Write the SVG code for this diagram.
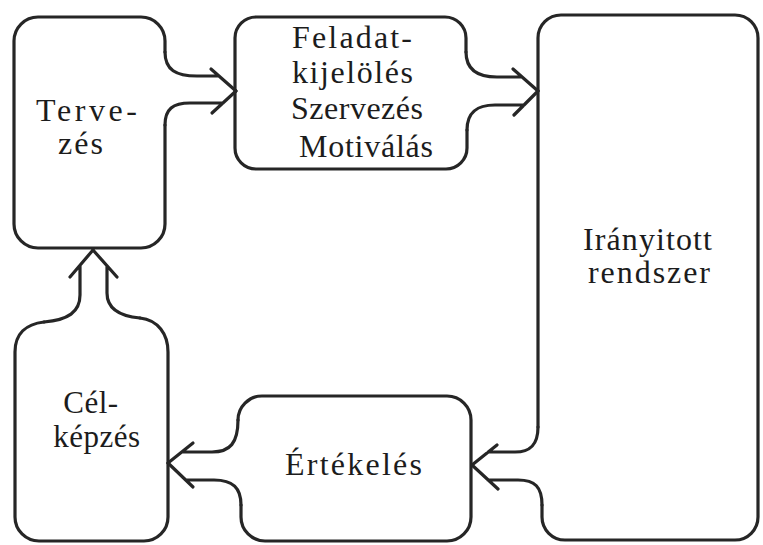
<svg xmlns="http://www.w3.org/2000/svg" width="763" height="545" viewBox="0 0 763 545">
<style>
.o{fill:none;stroke:#262626;stroke-width:3.2;stroke-linecap:round;stroke-linejoin:round}
.t{font-family:"Liberation Serif","Times New Roman",serif;font-size:32px;fill:#1c1c1c}
.m{text-anchor:middle;font-size:31px;letter-spacing:0.5px}
</style>
<rect width="763" height="545" fill="#ffffff"/>
<g id="tervezes">
<path class="o" d="M165,52 V41 A24,24 0 0 0 141,17 H38 A24,24 0 0 0 14,41 V224 A24,24 0 0 0 38,248 H141 A24,24 0 0 0 165,224 V125"/>
<text class="t" x="36" y="121" textLength="101" lengthAdjust="spacing">Terve-</text>
<text class="t" x="58" y="154" textLength="45" lengthAdjust="spacing">zés</text>
</g>
<g id="feladat">
<path class="o" d="M466,52 V38 A21,21 0 0 0 445,17 H256 A21,21 0 0 0 235,38 V148 A21,21 0 0 0 256,169 H446 A21,21 0 0 0 467,148 V130"/>
<text class="t" x="292" y="48" textLength="120" lengthAdjust="spacing">Feladat-</text>
<text class="t" x="292" y="83" textLength="121" lengthAdjust="spacing">kijelölés</text>
<text class="t" x="291" y="119" textLength="132" lengthAdjust="spacing">Szervezés</text>
<text class="t" x="299" y="157" textLength="134" lengthAdjust="spacing">Motiválás</text>
</g>
<g id="iranyitott">
<path class="o" d="M538,427 V38 A23,23 0 0 1 561,15 H735 A23,23 0 0 1 758,38 V517 A23,23 0 0 1 735,540 H565 A23,23 0 0 1 542,517 V505"/>
<text class="t" x="583" y="250" textLength="129" lengthAdjust="spacing">Irányitott</text>
<text class="t" x="588" y="283" textLength="122" lengthAdjust="spacing">rendszer</text>
</g>
<g id="ertekeles">
<path class="o" d="M238,420 A24,24 0 0 1 262,396 H447 A24,24 0 0 1 471,420 V517 A24,24 0 0 1 447,541 H265 A24,24 0 0 1 241,517 V505"/>
<text class="t" x="285" y="475" textLength="137" lengthAdjust="spacing">Értékelés</text>
</g>
<g id="celkepzes">
<path class="o" d="M44,322 C26,324 15,334 15,352 V517 A24,24 0 0 0 39,541 H144 A24,24 0 0 0 168,517 V352 C168,334 158,320 140,318"/>
<text class="t m" x="91" y="413">Cél-</text>
<text class="t m" x="97" y="447">képzés</text>
</g>
<g id="connectors">
<path class="o" d="M165,52 C165,70 176,76 197,76 H219 M211,69 L236,91"/>
<path class="o" d="M165,125 C165,109 173,103 190,103 H223 M212,113 L236,91"/>
<path class="o" d="M466,52 C466,70 478,77 497,77 H522 M513,69 L538,91"/>
<path class="o" d="M467,130 C467,111 478,105 495,105 H524 M514,115 L538,91"/>
<path class="o" d="M538,427 C538,445 530,452 515,452 H488 M497,445 L472,465"/>
<path class="o" d="M542,505 C542,487 535,480 518,480 H488 M498,489 L472,465"/>
<path class="o" d="M238,420 C238,443 230,452 212,452 H182 M193,443 L168,463"/>
<path class="o" d="M241,505 C241,488 233,480 214,480 H186 M193,487 L168,463"/>
<path class="o" d="M44,322 C68,320 80,312 80,295 V265 M70,277 L93,250"/>
<path class="o" d="M140,318 C118,316 107,308 107,293 V266 M117,277 L93,250"/>
</g>
</svg>
